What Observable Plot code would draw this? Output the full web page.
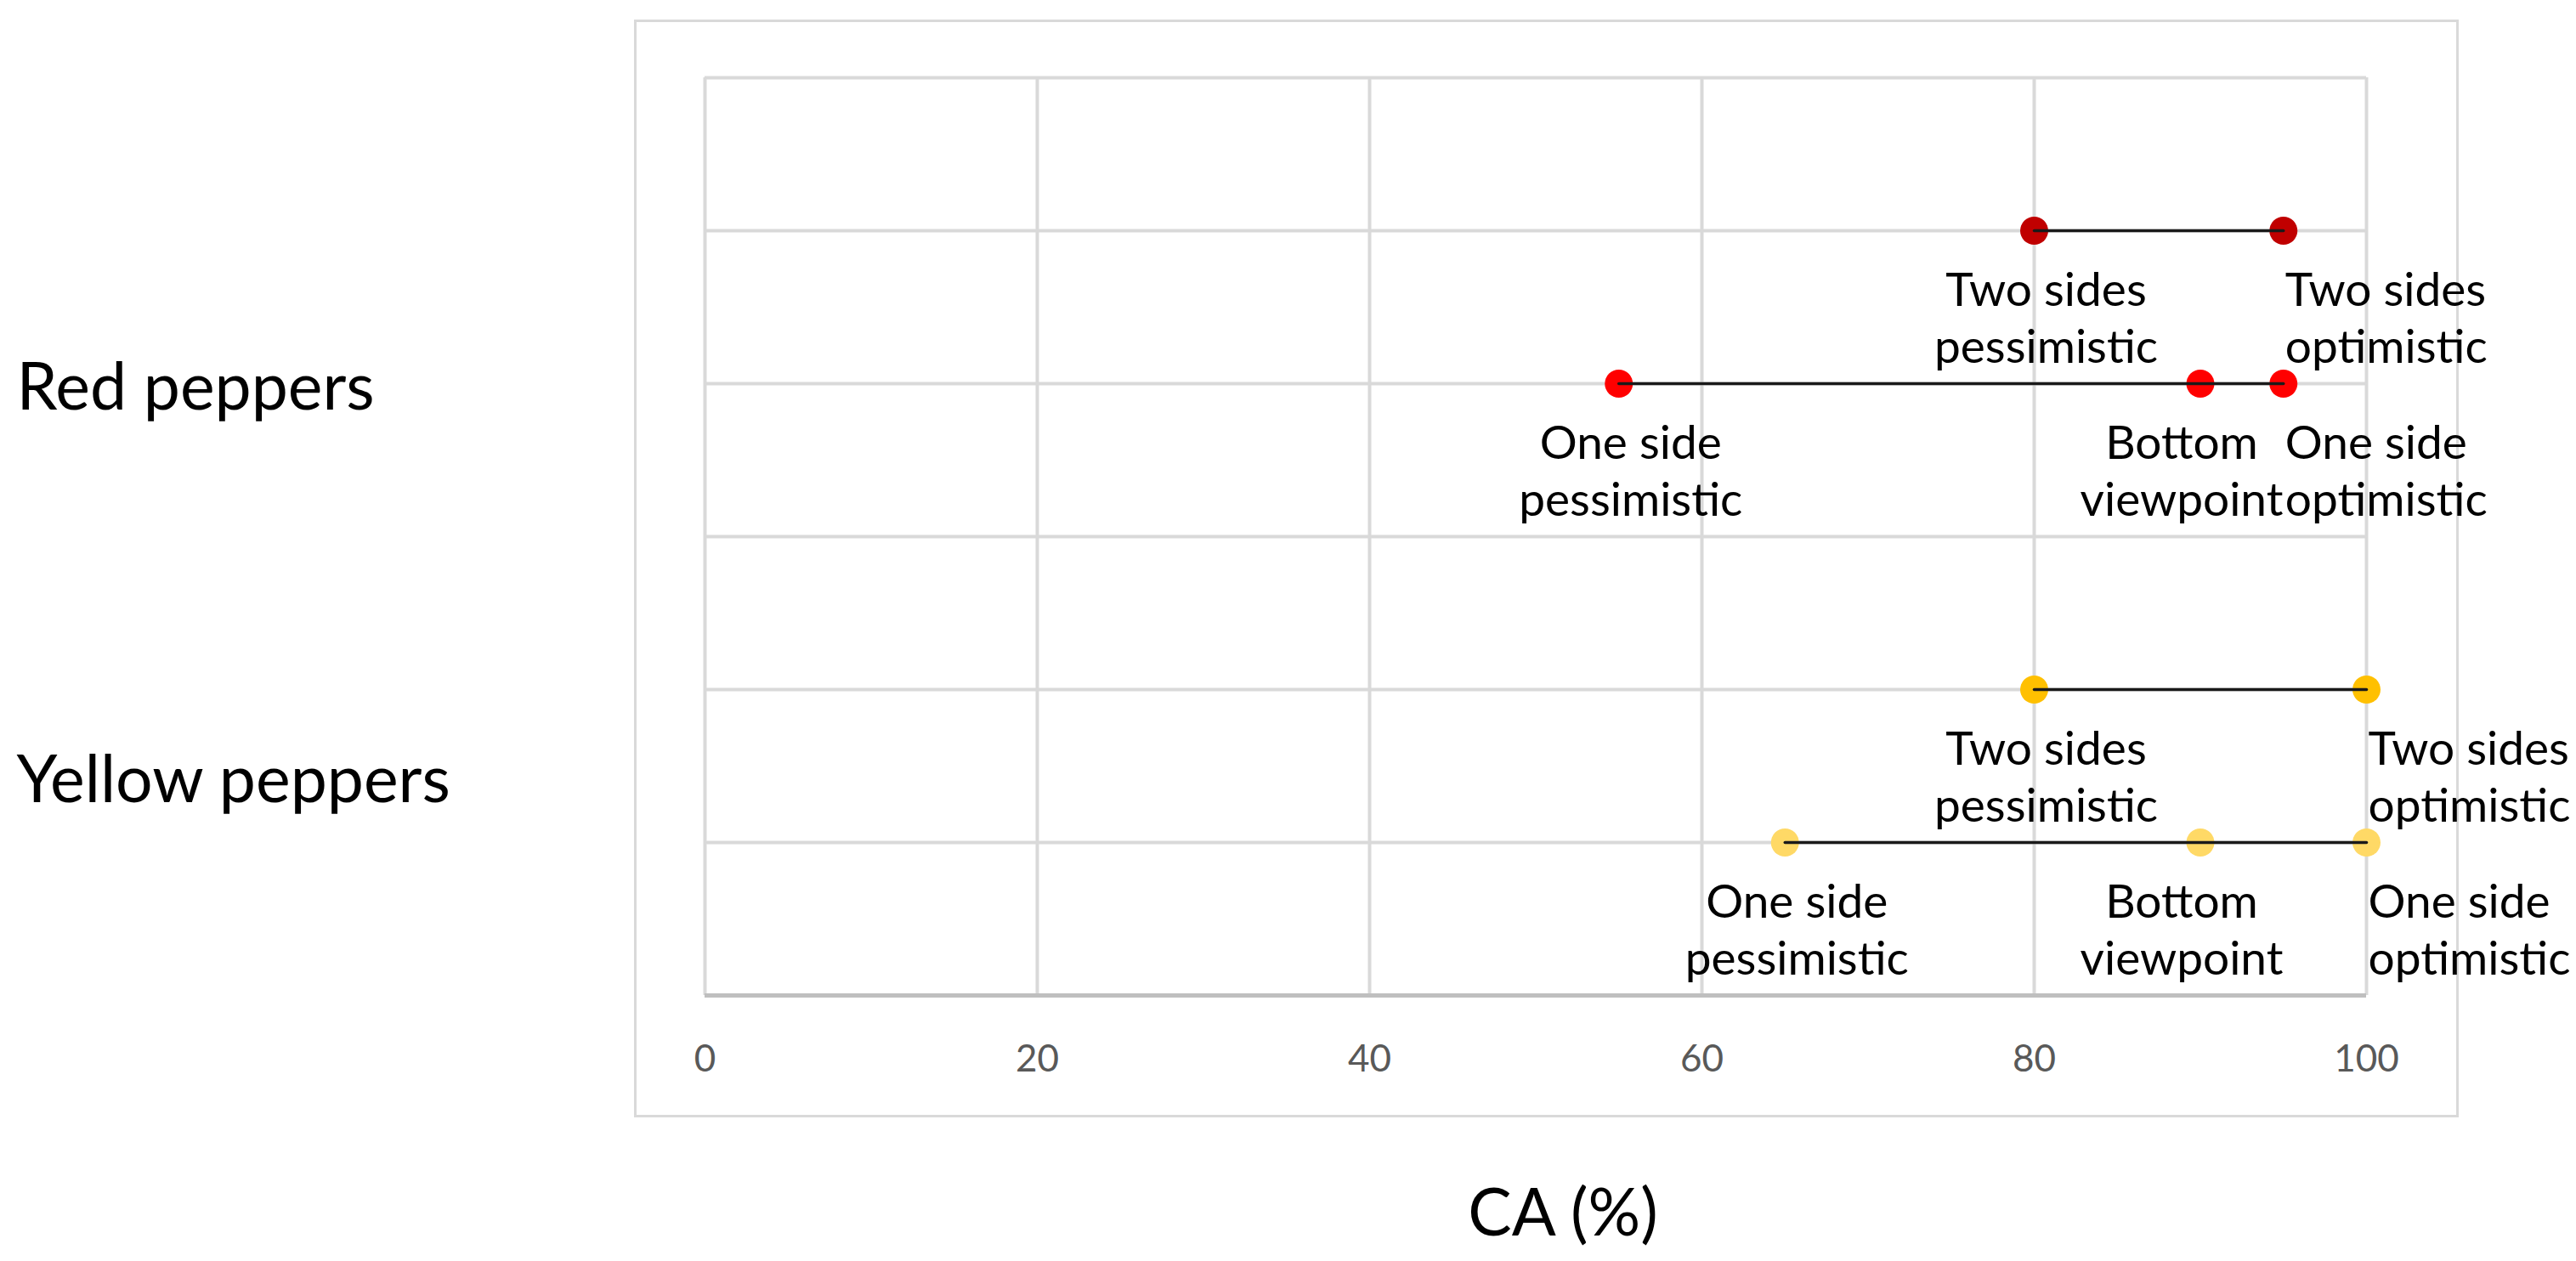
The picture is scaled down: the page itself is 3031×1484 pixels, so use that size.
<!DOCTYPE html>
<html>
<head>
<meta charset="utf-8">
<script src="https://cdn.jsdelivr.net/npm/d3@7"></script>
<script src="https://cdn.jsdelivr.net/npm/@observablehq/plot@0.6"></script>
<style>
  html, body { margin: 0; padding: 0; background: #fff; }
  #wrap { position: relative; width: 3031px; height: 1484px; font-family: Lato, "Open Sans", sans-serif; }
  #outer { position: absolute; left: 746px; top: 23px; width: 2141px; height: 1286px; border: 3px solid #d9d9d9; pointer-events: none; }
  svg { font-family: Lato, "Open Sans", sans-serif; }
</style>
</head>
<body>
<div id="wrap"><div id="outer"></div></div>
<script>
// ---- data ----
const xTicks = [0, 20, 40, 60, 80, 100];
const rowTicks = [0, 1, 2, 3, 4, 5, 6];

const rowNames = ["Red two sides", "Red one side", "Yellow two sides", "Yellow one side"];
const rowY = [5, 4, 2, 1];
const rowColors = ["#c00000", "#ff0000", "#ffc000", "#ffd966"];

const redTwoSides = [80, 95];
const redTwoSidesLabels = ["Two sides\npessimistic", "Two sides\noptimistic"];
const redOneSide = [55, 90, 95];
const redOneSideLabels = ["One side\npessimistic", "Bottom\nviewpoint", "One side\noptimistic"];
const yellowTwoSides = [80, 100];
const yellowTwoSidesLabels = ["Two sides\npessimistic", "Two sides\noptimistic"];
const yellowOneSide = [65, 90, 100];
const yellowOneSideLabels = ["One side\npessimistic", "Bottom\nviewpoint", "One side\noptimistic"];

const groupNames = ["Red peppers", "Yellow peppers"];
const groupY = [3.97, 1.4];

const axisTitle = "CA (%)";

// ---- build table ----
const seriesValues = [redTwoSides, redOneSide, yellowTwoSides, yellowOneSide];
const seriesLabels = [redTwoSidesLabels, redOneSideLabels, yellowTwoSidesLabels, yellowOneSideLabels];
const points = [];
seriesValues.forEach((vals, i) => {
  vals.forEach((v, j) => {
    points.push({row: rowNames[i], y: rowY[i], x: v, label: seriesLabels[i][j], color: rowColors[i]});
  });
});
const groups = groupNames.map((g, i) => ({name: g, y: groupY[i]}));

const labelStyle = {x: "x", y: "y", text: "label", lineAnchor: "top", dy: 40, lineHeight: 1.23, fontSize: 55, fill: "#000"};

const chart = Plot.plot({
  width: 3031,
  height: 1484,
  marginLeft: 829,
  marginRight: 247,
  marginTop: 91,
  marginBottom: 313,
  style: {background: "transparent", fontFamily: "Lato, 'Open Sans', sans-serif"},
  x: {domain: [0, 100]},
  y: {domain: [0, 6], axis: null},
  color: {type: "identity"},
  marks: [
    Plot.gridX(xTicks, {stroke: "#d9d9d9", strokeOpacity: 1, strokeWidth: 4}),
    Plot.gridY(rowTicks, {stroke: "#d9d9d9", strokeOpacity: 1, strokeWidth: 4}),
    Plot.ruleY([0], {stroke: "#bfbfbf", strokeWidth: 5}),
    Plot.axisX(xTicks, {tickSize: 0, tickPadding: 58, fontSize: 44, color: "#595959", label: null}),
    Plot.dot(points, {x: "x", y: "y", r: 16.5, fill: "color", stroke: "none"}),
    Plot.line(points, {x: "x", y: "y", z: "row", sort: "x", stroke: "#1a1a1a", strokeWidth: 3.5}),
    Plot.text(points.filter(d => /pessimistic/.test(d.label)), {...labelStyle, textAnchor: "middle", dx: 14}),
    Plot.text(points.filter(d => /viewpoint/.test(d.label)), {...labelStyle, textAnchor: "middle", dx: -22}),
    Plot.text(points.filter(d => /optimistic/.test(d.label)), {...labelStyle, textAnchor: "start", dx: 2}),
    Plot.text(groups, {
      y: "y", text: "name", frameAnchor: "left", textAnchor: "start",
      dx: -810, fontSize: 77, fill: "#000"
    }),
    Plot.text([axisTitle], {
      frameAnchor: "bottom", textAnchor: "middle", dy: 282, dx: 32,
      fontSize: 77, fill: "#000"
    })
  ]
});
document.getElementById("wrap").appendChild(chart);
chart.style.position = "absolute";
chart.style.left = "0";
chart.style.top = "0";
</script>
</body>
</html>
